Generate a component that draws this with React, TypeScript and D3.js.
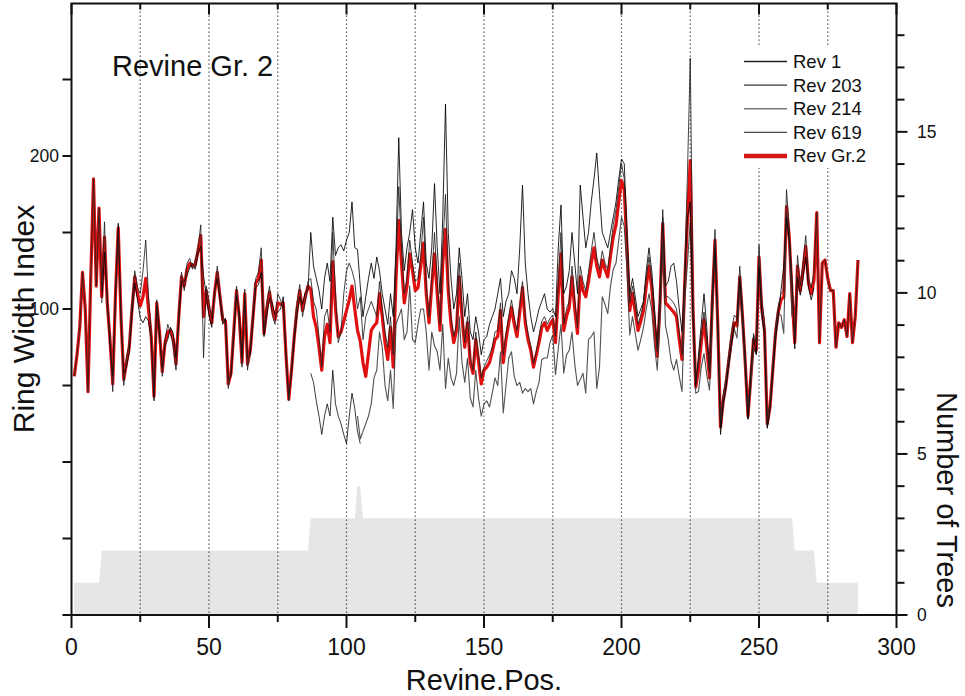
import React from 'react';
import * as d3 from 'd3';

// ring width index series, one value per position, starting at *Start
const rev1Start = 1;
const rev1 = [
  56, 70, 88, 124, 100, 46, 120, 185, 115, 166,
  112, 157, 100, 84, 46, 112, 150, 98, 50, 68,
  78, 104, 125, 114, 110, 125, 145, 108, 84, 46,
  106, 88, 56, 80, 90, 84, 76, 60, 98, 124,
  112, 130, 133, 126, 132, 140, 155, 68, 115, 104,
  94, 108, 128, 110, 96, 90, 48, 60, 88, 115,
  92, 62, 113, 60, 76, 98, 120, 124, 140, 86,
  104, 115, 96, 90, 110, 106, 100, 72, 40, 62,
  85, 104, 116, 95, 105, 118,
  120, 105, 100, 82, 62, 95, 100, 85, 150, 110, 78, 85, 110, 125, 130, 125, 118, 100, 108,
  80, 95, 100, 105, 100, 95, 118, 100, 85, 75,
  95, 70, 130, 180, 140, 110, 120, 145, 130, 118,
  120, 135, 160, 115, 95, 120, 150, 118, 90, 140,
  175, 118, 95, 82, 90, 130, 100, 78, 95, 68,
  60, 85, 70, 55, 62, 66, 70, 75, 85, 86,
  104, 70, 84, 95, 106, 94, 86, 102, 118, 95,
  84, 76, 64, 72, 82, 92, 95, 90, 94, 96,
  82, 116, 150, 90, 100, 105, 128, 106, 88, 128,
  118, 112, 124, 138, 150, 134, 126, 138, 130, 126,
  140, 155, 165, 180, 195, 185, 145, 104, 115, 102,
  90, 96, 104, 120, 134, 118, 94, 72, 108, 165,
  108, 108, 106, 104, 100, 84, 70, 125, 190, 264,
  110, 52, 64, 82, 98, 80, 58, 110, 152, 95,
  28, 44, 55, 70, 86, 96, 94, 128, 100, 70,
  34, 58, 84, 78, 142, 106, 92, 30, 38, 64,
  88, 102, 110, 112, 178, 152, 115,
  82, 135, 115, 130, 148, 120, 114, 124,
  163, 78, 130, 132, 120, 112, 112, 75, 91, 88, 93, 82, 110, 78, 95, 132,
];

const rev203Start = 11;
const rev203 = [
  104, 137, 108, 76, 56, 108, 156, 92, 58, 62,
  72, 96, 117, 106, 94, 91, 95, 92, 80, 40,
  102, 82, 62, 76, 80, 88, 84, 68, 92, 118,
  118, 122, 127, 130, 126, 136, 141, 122, 109, 96,
  88, 112, 120, 106, 90, 94, 54, 56, 82, 109,
  98, 68, 107, 68, 70, 92, 114, 116, 124, 82,
  96, 107, 104, 96, 98, 100, 108, 68, 42, 58,
  79, 96, 108, 103, 111, 112,
  150, 128, 120, 112, 100, 120, 130, 118, 160, 135, 140, 142, 138, 145, 150, 170, 140, 139, 115,
  95, 108, 120, 130, 120, 134, 125, 110, 100, 90,
  110, 95, 140, 212, 150, 125, 140, 150, 165, 140,
  130, 150, 170, 130, 120, 140, 182, 140, 110, 160,
  234, 150, 120, 100, 110, 140, 120, 95, 110, 85,
  80, 95, 85, 70, 80, 82, 90, 95, 100, 110,
  120, 95, 105, 110, 125, 120, 110, 140, 181, 130,
  110, 95, 85, 92, 100, 105, 110, 100, 98, 100,
  95, 140, 168, 110, 115, 125, 150, 130, 110, 181,
  160, 140, 150, 170, 185, 202, 175, 150, 145, 140,
  150, 160, 170, 185, 198, 195, 150, 110, 120, 108,
  95, 100, 105, 125, 140, 125, 100, 75, 110, 160,
  115, 118, 128, 130, 118, 100, 85, 120, 160, 170,
  95, 50, 70, 90, 110, 88, 60, 108, 140, 92,
  18, 38, 48, 65, 78, 90, 92, 120, 96, 66,
  28, 58, 82, 70, 128, 98, 82, 22, 34, 58,
  80, 95, 112, 128, 160, 145, 120,
  74, 121, 109, 120, 134, 114, 106, 114,
];

const rev214Start = 104;
const rev214 = [
  30, 15,
  20, 25, 30, 38, 55, 60, 85, 75, 50, 40,
  60, 35, 90, 95, 100, 80, 85, 115, 80, 78,
  90, 100, 100, 85, 60, 85, 76, 72, 60, 90,
  48, 68, 55, 50, 58, 95, 65, 52, 68, 42,
  36, 60, 42, 30, 38, 40, 36, 45, 55, 50,
  72, 32, 50, 68, 72, 56, 50, 52, 45, 48,
  46, 48, 38, 46, 52, 67, 68, 68, 78, 83,
  57, 74, 90, 58, 70, 73, 85, 64, 50, 54,
  58, 45, 80, 82, 85, 48, 62, 108, 103, 97,
  115, 126, 130, 145, 160, 154, 125, 83, 95, 84,
  73, 80, 88, 100, 110, 99, 76, 60, 94, 143,
  89, 80, 66, 60, 67, 56, 46, 106, 130, 157,
  95, 45, 46, 62, 71, 57, 47, 94, 143, 83,
  23, 38, 50, 63, 76, 87, 81, 115, 89, 59,
  28, 49, 74, 71, 132, 96, 84, 23, 36, 58,
  84, 97, 96, 84, 163, 144, 95,
];

const rev619Start = 87;
const rev619 = [58, 52, 40, 30, 18, 30, 38, 30, 60, 38, 30, 25, 18, 12, 30, 45, 35, 20, 12];

const meanStart = 1;
const revGr2 = [
  56, 70, 88, 124, 100, 46, 120, 185, 115, 166,
  108, 147, 104, 80, 51, 110, 153, 95, 54, 65,
  75, 100, 121, 110, 102, 108, 120, 100, 82, 43,
  104, 85, 59, 78, 85, 86, 80, 64, 95, 121,
  115, 126, 130, 128, 129, 138, 148, 95, 112, 100,
  91, 110, 124, 108, 93, 92, 51, 58, 85, 112,
  95, 65, 110, 64, 73, 95, 117, 120, 132, 84,
  100, 111, 100, 93, 104, 103, 104, 70, 41, 60,
  82, 100, 112, 99, 108, 115, 113, 95, 88, 75,
  60, 82, 90, 78, 131, 100, 82, 85, 92, 99,
  106, 115, 100, 86, 79, 65, 56, 71, 86, 89,
  91, 110, 95, 78, 67, 88, 62, 120, 158, 130,
  104, 115, 136, 125, 112, 114, 128, 143, 110, 91,
  115, 136, 110, 86, 130, 152, 112, 90, 78, 86,
  121, 95, 75, 91, 65, 58, 80, 66, 51, 60,
  62, 65, 72, 80, 82, 99, 65, 80, 91, 101,
  90, 82, 98, 114, 91, 80, 73, 62, 70, 78,
  88, 91, 86, 90, 93, 78, 110, 136, 86, 95,
  101, 121, 100, 84, 121, 112, 108, 118, 130, 140,
  128, 121, 132, 126, 121, 135, 147, 155, 170, 184,
  178, 140, 99, 110, 98, 86, 92, 99, 115, 128,
  114, 90, 69, 104, 156, 104, 102, 100, 98, 95,
  80, 67, 117, 160, 197, 100, 49, 60, 78, 93,
  75, 55, 104, 145, 90, 23, 40, 51, 66, 80,
  91, 89, 121, 95, 65, 30, 55, 80, 73, 134,
  100, 86, 25, 36, 60, 84, 98, 106, 108, 167,
  147, 110, 78, 128, 112, 125, 141, 117, 110, 119,
  163, 78, 130, 132, 120, 112, 112, 75, 91, 88,
  93, 82, 110, 78, 95, 132,
];

// sample depth (number of trees), breakpoints
const treePos = [1, 10, 11, 86, 87, 103, 104, 105, 106, 262, 263, 270, 271, 286];
const treeCount = [1, 1, 2, 2, 3, 3, 4, 4, 3, 3, 2, 2, 1, 1];

const xTicks = [0, 50, 100, 150, 200, 250, 300];
const xMinorTicks = [25, 75, 125, 175, 225, 275];
const leftTicks = [-100, -50, 0, 50, 100, 150, 200, 250];
const leftLabels = [100, 200];
const rightLabels = [0, 5, 10, 15];

const FONT = 'Liberation Sans, Arial, sans-serif';

const series = [
  { name: 'Rev 214', start: rev214Start, values: rev214, color: '#333', width: 1.1 },
  { name: 'Rev 619', start: rev619Start, values: rev619, color: '#000', width: 0.9 },
  { name: 'Rev 203', start: rev203Start, values: rev203, color: '#000', width: 1 },
  { name: 'Rev 1', start: rev1Start, values: rev1, color: '#222', width: 1 },
];

const legendItems = [
  { name: 'Rev 1', color: '#222', width: 1.3 },
  { name: 'Rev 203', color: '#000', width: 1 },
  { name: 'Rev 214', color: '#777', width: 1.6 },
  { name: 'Rev 619', color: '#000', width: 0.9 },
  { name: 'Rev Gr.2', color: '#d81414', width: 4.5 },
];

export default function App() {
  const left = 71.5, right = 896.5, top = 3.5, bottom = 615;
  const x = d3.scaleLinear().domain([0, 300]).range([left, right]);
  const yL = d3.scaleLinear().domain([-100, 300]).range([bottom, 3]);
  const yR = d3.scaleLinear().domain([0, 19]).range([bottom, 3]);

  const pathFor = (start: number, values: number[]) =>
    d3.line<number>()
      .x((_, i) => x(start + i))
      .y((d) => yL(d))(values) || '';

  const treeArea =
    d3.area<number>()
      .x((_, i) => x(treePos[i]))
      .y0(yR(0))
      .y1((d) => yR(d))(treeCount) || '';

  const rightTicks = d3.range(0, 19);

  return (
    <svg width={965} height={696} style={{ position: 'absolute', left: 0, top: 0, background: '#fff' }}
      fontFamily={FONT}>
      <rect x={0} y={0} width={965} height={696} fill="#fff" />
      {/* sample depth */}
      <path d={treeArea} fill="#e6e6e6" />

      {/* dotted grid */}
      {[...xMinorTicks, 50, 100, 150, 200, 250].map((t) => (
        <line key={'g' + t} x1={x(t)} x2={x(t)} y1={top} y2={bottom}
          stroke="#444" strokeWidth={1.3} strokeDasharray="1.3 2.7" />
      ))}

      {/* mean under the single series, as in the original */}
      <path d={pathFor(meanStart, revGr2)} fill="none" stroke="#e01010"
        strokeWidth={3.2} strokeLinejoin="round" />
      {series.map((s) => (
        <path key={s.name} d={pathFor(s.start, s.values)} fill="none"
          stroke={s.color} strokeWidth={s.width} strokeLinejoin="round" strokeOpacity={0.85} />
      ))}

      {/* legend */}
      <rect x={740} y={47} width={134} height={121} fill="#fff" />
      {legendItems.map((l, i) => {
        const cy = 61.5 + i * 23.6;
        return (
          <g key={l.name}>
            <line x1={744} x2={787} y1={cy} y2={cy} stroke={l.color} strokeWidth={l.width} />
            <text x={793} y={cy + 6.5} fontSize={18.5} fill="#111">{l.name}</text>
          </g>
        );
      })}

      {/* frame */}
      <rect x={left} y={top} width={right - left} height={bottom - top} fill="none" stroke="#111" strokeWidth={2} />

      {/* bottom and top ticks */}
      {xTicks.map((t) => (
        <g key={'xt' + t}>
          <line x1={x(t)} x2={x(t)} y1={bottom} y2={bottom + 13} stroke="#111" strokeWidth={2} />
          <line x1={x(t)} x2={x(t)} y1={top} y2={top + 11} stroke="#111" strokeWidth={2} />
          <text x={x(t)} y={655} fontSize={23} textAnchor="middle" fill="#111">{t}</text>
        </g>
      ))}
      {xMinorTicks.map((t) => (
        <g key={'xm' + t}>
          <line x1={x(t)} x2={x(t)} y1={bottom} y2={bottom + 7} stroke="#111" strokeWidth={2} />
          <line x1={x(t)} x2={x(t)} y1={top} y2={top + 6} stroke="#111" strokeWidth={2} />
        </g>
      ))}

      {/* left axis */}
      {leftTicks.map((t) => (
        <line key={'lt' + t} x1={left - 9} x2={left} y1={yL(t)} y2={yL(t)} stroke="#111" strokeWidth={2} />
      ))}
      {leftLabels.map((t) => (
        <text key={'ll' + t} x={59} y={yL(t) + 6} fontSize={17.5} textAnchor="end" fill="#111">{t}</text>
      ))}

      {/* right axis */}
      {rightTicks.map((t) => (
        <line key={'rt' + t} x1={right} x2={right + (t % 5 === 0 ? 11 : 8)} y1={yR(t)} y2={yR(t)}
          stroke="#111" strokeWidth={2} />
      ))}
      {rightLabels.map((t) => (
        <text key={'rl' + t} x={917} y={yR(t) + 6} fontSize={17.5} fill="#111">{t}</text>
      ))}

      {/* titles */}
      <text x={112} y={76} fontSize={29} fill="#111">Revine Gr. 2</text>
      <text x={484} y={690} fontSize={29} textAnchor="middle" fill="#111">Revine.Pos.</text>
      <text transform="translate(34,319) rotate(-90)" fontSize={30} textAnchor="middle" fill="#111">Ring Width Index</text>
      <text transform="translate(937,500) rotate(90)" fontSize={29} textAnchor="middle" fill="#111">Number of Trees</text>
    </svg>
  );
}
